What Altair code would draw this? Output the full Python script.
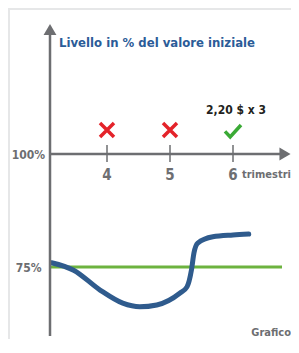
import altair as alt
import pandas as pd

# ---- data ----
ticks_q = [4, 5, 6]
tick_labels = ["4", "5", "6"]
fail_q = [4, 5]
ok_q = [6]
curve_q = [3.12, 3.47, 3.89, 4.25, 4.52, 4.79, 5.16, 5.27, 5.34, 5.38, 5.44, 5.68, 6.0, 6.25]
curve_v = [75.95, 74.3, 69.9, 67.0, 66.2, 66.6, 69.25, 70.6, 74.3, 78.1, 80.3, 81.7, 82.1, 82.3]
barrier_v = 75
title_text = "Livello in % del valore iniziale"
coupon_text = "2,20 $ x 3"

# ---- scale setup (pixel geometry of the reference) ----
PXQ = 63.0   # px per quarter
PXV = 4.52   # px per percent
W, H = 281, 329
X0, Y0 = 10, 10  # page px of plot origin
qd = [4 + (X0 - 107) / PXQ, 4 + (X0 + W - 107) / PXQ]
vd = [100 - (Y0 + H - 154) / PXV, 100 + (154 - Y0) / PXV]
xs = alt.Scale(domain=qd, nice=False, zero=False)
ys = alt.Scale(domain=vd, nice=False, zero=False)

def qx(px):
    return 4 + (px - 107) / PXQ

def vy(py):
    return 100 - (py - 154) / PXV

X = lambda f="q": alt.X(f"{f}:Q", scale=xs, axis=None)
Y = lambda f="v": alt.Y(f"{f}:Q", scale=ys, axis=None)

GRAY = "#6d6e71"
FONT = "DejaVu Sans Condensed, Liberation Sans Narrow, Roboto Condensed, Roboto, sans-serif"

# axes lines
axes_df = pd.DataFrame({
    "q": [qx(50), qx(50)], "q2": [qx(50), qx(281)],
    "v": [vy(336), vy(154)], "v2": [vy(31), vy(154)],
})
axes = alt.Chart(axes_df).mark_rule(color=GRAY, strokeWidth=2.5).encode(
    x=X(), x2="q2:Q", y=Y(), y2="v2:Q")

arrow_up = alt.Chart(pd.DataFrame({"q": [qx(50)], "v": [vy(29.5)]})).mark_point(
    shape="triangle-up", size=165, filled=True, color=GRAY, opacity=1).encode(x=X(), y=Y())
arrow_right = alt.Chart(pd.DataFrame({"q": [qx(285)], "v": [100]})).mark_point(
    shape="triangle-right", size=165, filled=True, color=GRAY, opacity=1).encode(x=X(), y=Y())

tick_df = pd.DataFrame({"q": ticks_q, "lab": tick_labels,
                        "v": [vy(145)] * 3, "v2": [vy(162)] * 3, "vl": [vy(175)] * 3})
tick_rules = alt.Chart(tick_df).mark_rule(color=GRAY, strokeWidth=1.5).encode(
    x=X(), y=Y(), y2="v2:Q")
tick_text = alt.Chart(tick_df).mark_text(
    font=FONT, fontSize=15, fontWeight="bold", color=GRAY, baseline="middle").encode(
    x=X(), y=Y("vl"), text="lab:N")

trim = alt.Chart(pd.DataFrame({"q": [qx(242)], "v": [vy(175)], "t": ["trimestri"]})).mark_text(
    font=FONT, fontSize=11, fontWeight="bold", color=GRAY, align="left", baseline="middle").encode(
    x=X(), y=Y(), text="t:N")

ylab_df = pd.DataFrame({"q": [qx(45), qx(41.5)], "v": [vy(155), vy(268)], "t": ["100%", "75%"]})
ylabs = alt.Chart(ylab_df).mark_text(
    font=FONT, fontSize=12, fontWeight="bold", color=GRAY, align="right", baseline="middle").encode(
    x=X(), y=Y(), text="t:N")

title = alt.Chart(pd.DataFrame({"q": [qx(59)], "v": [vy(43)], "t": [title_text]})).mark_text(
    font=FONT, fontSize=13, fontWeight="bold", color="#2b5c98", align="left", baseline="middle").encode(
    x=X(), y=Y(), text="t:N")

coupon = alt.Chart(pd.DataFrame({"q": [qx(236)], "v": [vy(110)], "t": [coupon_text]})).mark_text(
    font=FONT, fontSize=12, fontWeight="bold", color="#231f20", align="center", baseline="middle").encode(
    x=X(), y=Y(), text="t:N")

fails = alt.Chart(pd.DataFrame({"q": fail_q, "v": [vy(130)] * 2})).mark_point(
    shape="M-1,-1L1,1M1,-1L-1,1", size=196, filled=False, color="#e4232a",
    strokeWidth=3.5, opacity=1).encode(x=X(), y=Y())
oks = alt.Chart(pd.DataFrame({"q": ok_q, "v": [vy(131)]})).mark_point(
    shape="M-1,0.05L-0.35,0.75L1,-0.75", size=256, filled=False, color="#3aaa35",
    strokeWidth=3.5, opacity=1).encode(x=X(), y=Y())

barrier = alt.Chart(pd.DataFrame({"q": [qx(50)], "q2": [qx(282)], "v": [barrier_v]})).mark_rule(
    color="#6db33f", strokeWidth=3).encode(x=X(), x2="q2:Q", y=Y())

curve = alt.Chart(pd.DataFrame({"q": curve_q, "v": curve_v})).mark_line(
    color="#2f5b8d", strokeWidth=5, interpolate="monotone", strokeCap="round").encode(
    x=X(), y=Y(), order="q:Q")

src = alt.Chart(pd.DataFrame({"q": [qx(291)], "v": [vy(333)], "t": ["Grafico"]})).mark_text(
    font=FONT, fontSize=11, fontWeight="bold", color=GRAY, align="right", baseline="middle").encode(
    x=X(), y=Y(), text="t:N")

chart = alt.layer(
    barrier, curve, axes, arrow_up, arrow_right, tick_rules, tick_text, trim,
    ylabs, title, coupon, fails, oks, src
).properties(
    width=W, height=H,
    padding={"left": 2, "top": 2, "right": 0, "bottom": 0},
    autosize=alt.AutoSizeParams(type="none"),
    background="#e6e7e8",
).configure_view(fill="white", stroke=None)

chart.save("out.html", embed_options={"renderer": "svg", "actions": False})
